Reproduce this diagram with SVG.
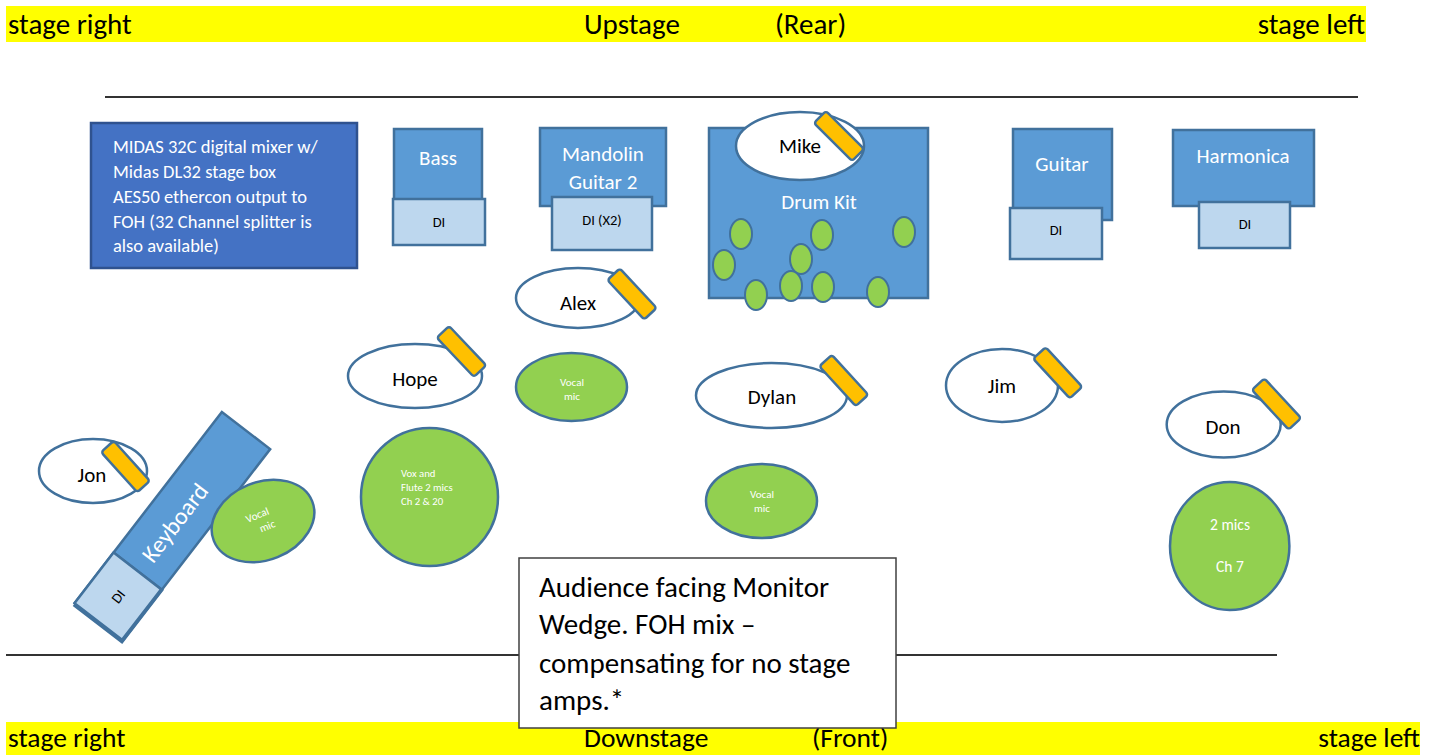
<svg xmlns="http://www.w3.org/2000/svg" xmlns:xlink="http://www.w3.org/1999/xlink" width="1440" height="755" viewBox="0 0 1440 755">
<style>
text{font-family:Carlito,Lato,"Open Sans","Liberation Sans",sans-serif}
.band{fill:#FFFF00}
.bt{font-size:29px;fill:#000}
.bb{font-size:27.5px;fill:#000}
.inst{fill:#5B9BD5;stroke:#41719C;stroke-width:2.5}
.di{fill:#BDD7EE;stroke:#41719C;stroke-width:2.5}
.wt{fill:#fff;font-size:21px;text-anchor:middle}
.dt{fill:#000;font-size:14.5px;text-anchor:middle}
.person{fill:#fff;stroke:#41719C;stroke-width:2.5}
.pt{fill:#000;font-size:21px;text-anchor:middle}
.mic{fill:#FFC000;stroke:#41719C;stroke-width:2.5}
.green{fill:#92D050;stroke:#41719C;stroke-width:2.5}
.gt{fill:#fff;font-size:10.7px}
.gtc{fill:#fff;font-size:11px;text-anchor:middle}
.dm{fill:#92D050;stroke:#41719C;stroke-width:2}
.rule{stroke:#333;stroke-width:2}
</style>
<defs>
<rect id="mic" class="mic" x="-27" y="-8.5" width="54" height="17" rx="3"/>
</defs>

<g id="top-band">
<rect class="band" x="6" y="6" width="1360" height="36"/>
<text class="bt" x="8" y="34">stage right</text>
<text class="bt" x="584" y="34">Upstage</text>
<text class="bt" x="775" y="34">(Rear)</text>
<text class="bt" x="1365" y="34" text-anchor="end">stage left</text>
</g>
<line id="upstage-line" class="rule" x1="105" y1="97" x2="1358" y2="97"/>
<line id="downstage-line" class="rule" x1="6" y1="655" x2="1277" y2="655"/>

<g id="mixer">
<rect x="91" y="123" width="266" height="145" fill="#4472C4" stroke="#2F528F" stroke-width="2.5"/>
<g fill="#fff" font-size="18.5">
<text x="113" y="153">MIDAS 32C digital mixer w/</text>
<text x="113" y="178">Midas DL32 stage box</text>
<text x="113" y="203">AES50 ethercon output to</text>
<text x="113" y="228">FOH (32 Channel splitter is</text>
<text x="113" y="252">also available)</text>
</g>
</g>

<g id="bass">
<rect class="inst" x="394" y="129" width="88" height="72"/>
<text class="wt" x="438" y="165">Bass</text>
<rect class="di" x="393" y="199" width="92" height="46"/>
<text class="dt" x="439" y="227">DI</text>
</g>

<g id="mandolin">
<rect class="inst" x="540" y="128" width="126" height="78"/>
<text class="wt" x="603" y="161">Mandolin</text>
<text class="wt" x="603" y="189">Guitar 2</text>
<rect class="di" x="552" y="197" width="100" height="53"/>
<text class="dt" x="602" y="225">DI (X2)</text>
</g>

<g id="drum-kit">
<rect class="inst" x="709" y="128" width="219" height="170"/>
<text class="wt" x="819" y="209">Drum Kit</text>
<g>
<ellipse class="dm" cx="741" cy="234" rx="11" ry="15"/>
<ellipse class="dm" cx="822" cy="235" rx="11" ry="15"/>
<ellipse class="dm" cx="904" cy="232" rx="11" ry="15"/>
<ellipse class="dm" cx="724" cy="265" rx="11" ry="15"/>
<ellipse class="dm" cx="801" cy="259" rx="11" ry="15"/>
<ellipse class="dm" cx="756" cy="295" rx="11" ry="15"/>
<ellipse class="dm" cx="791" cy="286" rx="11" ry="15"/>
<ellipse class="dm" cx="823" cy="287" rx="11" ry="15"/>
<ellipse class="dm" cx="878" cy="292" rx="11" ry="15"/>
</g>
</g>

<g id="mike">
<ellipse class="person" cx="800" cy="146" rx="64" ry="34"/>
<text class="pt" x="800" y="153">Mike</text>
<use xlink:href="#mic" href="#mic" transform="translate(839,136) rotate(45)"/>
</g>

<g id="guitar">
<rect class="inst" x="1013" y="129" width="99" height="91"/>
<text class="wt" x="1062" y="171">Guitar</text>
<rect class="di" x="1010" y="208" width="92" height="51"/>
<text class="dt" x="1056" y="235">DI</text>
</g>

<g id="harmonica">
<rect class="inst" x="1173" y="130" width="141" height="76"/>
<text class="wt" x="1243" y="163">Harmonica</text>
<rect class="di" x="1199" y="202" width="91" height="46"/>
<text class="dt" x="1245" y="229">DI</text>
</g>

<g id="alex">
<ellipse class="person" cx="578" cy="298" rx="62" ry="30"/>
<text class="pt" x="578" y="310">Alex</text>
<use xlink:href="#mic" href="#mic" transform="translate(632,294) rotate(47)"/>
</g>

<g id="hope">
<ellipse class="person" cx="415" cy="376" rx="67" ry="32"/>
<text class="pt" x="415" y="386">Hope</text>
<use xlink:href="#mic" href="#mic" transform="translate(461.5,351.5) rotate(46.5)"/>
</g>

<g id="alex-vocal-mic">
<ellipse class="green" cx="571.5" cy="387" rx="55.5" ry="34"/>
<text class="gtc" x="572" y="386">Vocal</text>
<text class="gtc" x="572" y="400">mic</text>
</g>

<g id="dylan">
<ellipse class="person" cx="771.5" cy="395.5" rx="75.5" ry="32.5"/>
<text class="pt" x="772" y="404">Dylan</text>
<use xlink:href="#mic" href="#mic" transform="translate(843.8,380.5) rotate(47.6)"/>
</g>

<g id="jim">
<ellipse class="person" cx="1002" cy="385.5" rx="56" ry="36.5"/>
<text class="pt" x="1002" y="393">Jim</text>
<use xlink:href="#mic" href="#mic" transform="translate(1057.7,372.8) rotate(47.3)"/>
</g>

<g id="don">
<ellipse class="person" cx="1223.7" cy="424.5" rx="57" ry="33"/>
<text class="pt" x="1223" y="434">Don</text>
<use xlink:href="#mic" href="#mic" transform="translate(1276.5,404) rotate(47.2)"/>
</g>

<g id="don-mics">
<ellipse class="green" cx="1229.7" cy="546" rx="59.7" ry="64"/>
<text fill="#fff" font-size="15.5" text-anchor="middle" x="1230" y="530">2 mics</text>
<text fill="#fff" font-size="15.5" text-anchor="middle" x="1230" y="572">Ch 7</text>
</g>

<g id="dylan-vocal-mic">
<ellipse class="green" cx="761.5" cy="501" rx="55.5" ry="37"/>
<text class="gtc" x="762" y="498">Vocal</text>
<text class="gtc" x="762" y="512">mic</text>
</g>

<g id="hope-mics">
<ellipse class="green" cx="429.5" cy="497" rx="68.5" ry="69"/>
<text class="gt" x="401" y="477">Vox and</text>
<text class="gt" x="401" y="491">Flute 2 mics</text>
<text class="gt" x="401" y="505">Ch 2 &amp; 20</text>
</g>

<g id="jon">
<ellipse class="person" cx="93" cy="471" rx="54" ry="32"/>
<text class="pt" x="92" y="482">Jon</text>
<use xlink:href="#mic" href="#mic" transform="translate(125.5,466.5) rotate(48)"/>
</g>

<g id="keyboard" transform="translate(172.5,526) rotate(-52.4)">
<rect class="inst" x="-120.5" y="-30.5" width="241" height="61"/>
<text fill="#fff" font-size="24" text-anchor="middle" x="4" y="8">Keyboard</text>
<rect class="inst" x="-123" y="-29" width="66" height="60"/>
<rect class="di" x="-121" y="-30.5" width="64" height="60"/>
<text class="dt" x="-89" y="5">DI</text>
</g>

<g id="keyboard-vocal-mic" transform="translate(263,521) rotate(-22)">
<ellipse class="green" cx="0" cy="0" rx="53" ry="39"/>
<text class="gtc" x="-3" y="-4">Vocal</text>
<text class="gtc" x="2" y="10">mic</text>
</g>

<g id="bottom-band">
<rect class="band" x="6" y="722" width="1414" height="33"/>
<text class="bb" x="8" y="747">stage right</text>
<text class="bb" x="584" y="747">Downstage</text>
<text class="bb" x="812" y="747">(Front)</text>
<text class="bb" x="1420" y="747" text-anchor="end">stage left</text>
</g>

<g id="monitor-wedge">
<rect x="519" y="558" width="377" height="170" fill="#fff" stroke="#404040" stroke-width="1.5"/>
<g font-size="29" fill="#000">
<text x="539" y="597">Audience facing Monitor</text>
<text x="539" y="634">Wedge. FOH mix –</text>
<text x="539" y="673">compensating for no stage</text>
<text x="539" y="710">amps.*</text>
</g>
</g>
</svg>
